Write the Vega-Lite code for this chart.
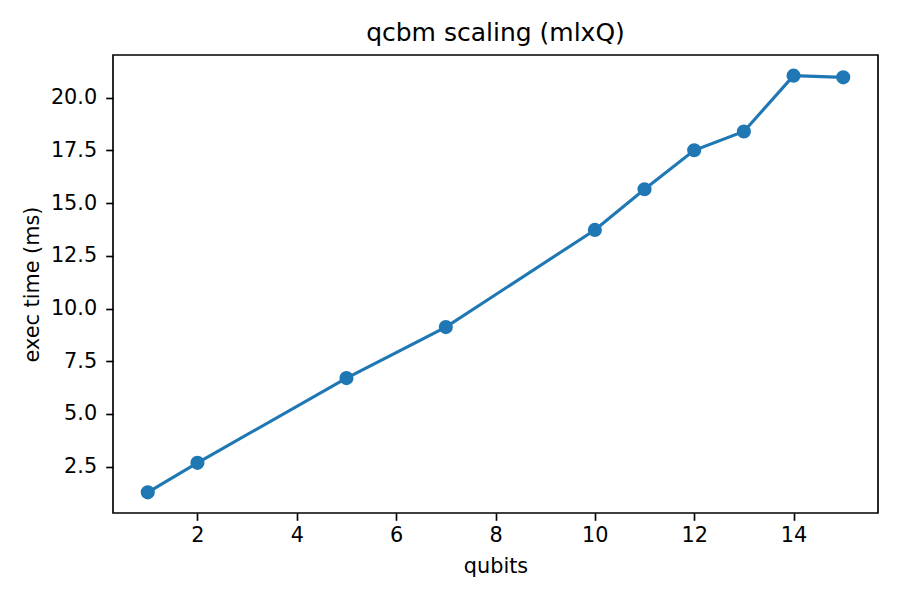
{
  "$schema": "https://vega.github.io/schema/vega-lite/v6.json",
  "width": 765,
  "height": 458,
  "autosize": {"type": "none"},
  "padding": {"left": 113, "top": 55, "right": 22, "bottom": 87},
  "background": "white",
  "title": {
    "text": "qcbm scaling (mlxQ)",
    "font": "DejaVu Sans",
    "fontSize": 25,
    "fontWeight": "normal",
    "color": "black",
    "offset": 9
  },
  "config": {
    "view": {"stroke": "black", "strokeWidth": 1.67},
    "axis": {
      "labelFont": "DejaVu Sans",
      "labelFontSize": 20.8,
      "labelColor": "black",
      "titleFont": "DejaVu Sans",
      "titleFontSize": 20.8,
      "titleFontWeight": "normal",
      "titleColor": "black",
      "grid": false,
      "domain": false,
      "tickColor": "black",
      "tickSize": 7.3,
      "tickWidth": 1.67
    }
  },
  "data": {
    "values": [
      {"qubits": 1, "time": 1.28},
      {"qubits": 2, "time": 2.68},
      {"qubits": 5, "time": 6.7},
      {"qubits": 7, "time": 9.12},
      {"qubits": 10, "time": 13.73},
      {"qubits": 11, "time": 15.66},
      {"qubits": 12, "time": 17.51},
      {"qubits": 13, "time": 18.4},
      {"qubits": 14, "time": 21.05},
      {"qubits": 15, "time": 20.97}
    ]
  },
  "encoding": {
    "x": {
      "field": "qubits",
      "type": "quantitative",
      "scale": {"domain": [0.3, 15.7], "nice": false, "zero": false},
      "axis": {"values": [2, 4, 6, 8, 10, 12, 14], "title": "qubits", "labelPadding": 5, "titlePadding": 11}
    },
    "y": {
      "field": "time",
      "type": "quantitative",
      "scale": {"domain": [0.3, 22.03], "nice": false, "zero": false},
      "axis": {
        "values": [2.5, 5, 7.5, 10, 12.5, 15, 17.5, 20],
        "format": ".1f",
        "title": "exec time (ms)",
        "labelPadding": 9,
        "titlePadding": 8
      }
    }
  },
  "layer": [
    {"mark": {"type": "line", "color": "#1f77b4", "strokeWidth": 3.1}},
    {"mark": {"type": "circle", "color": "#1f77b4", "opacity": 1, "size": 200}}
  ]
}
